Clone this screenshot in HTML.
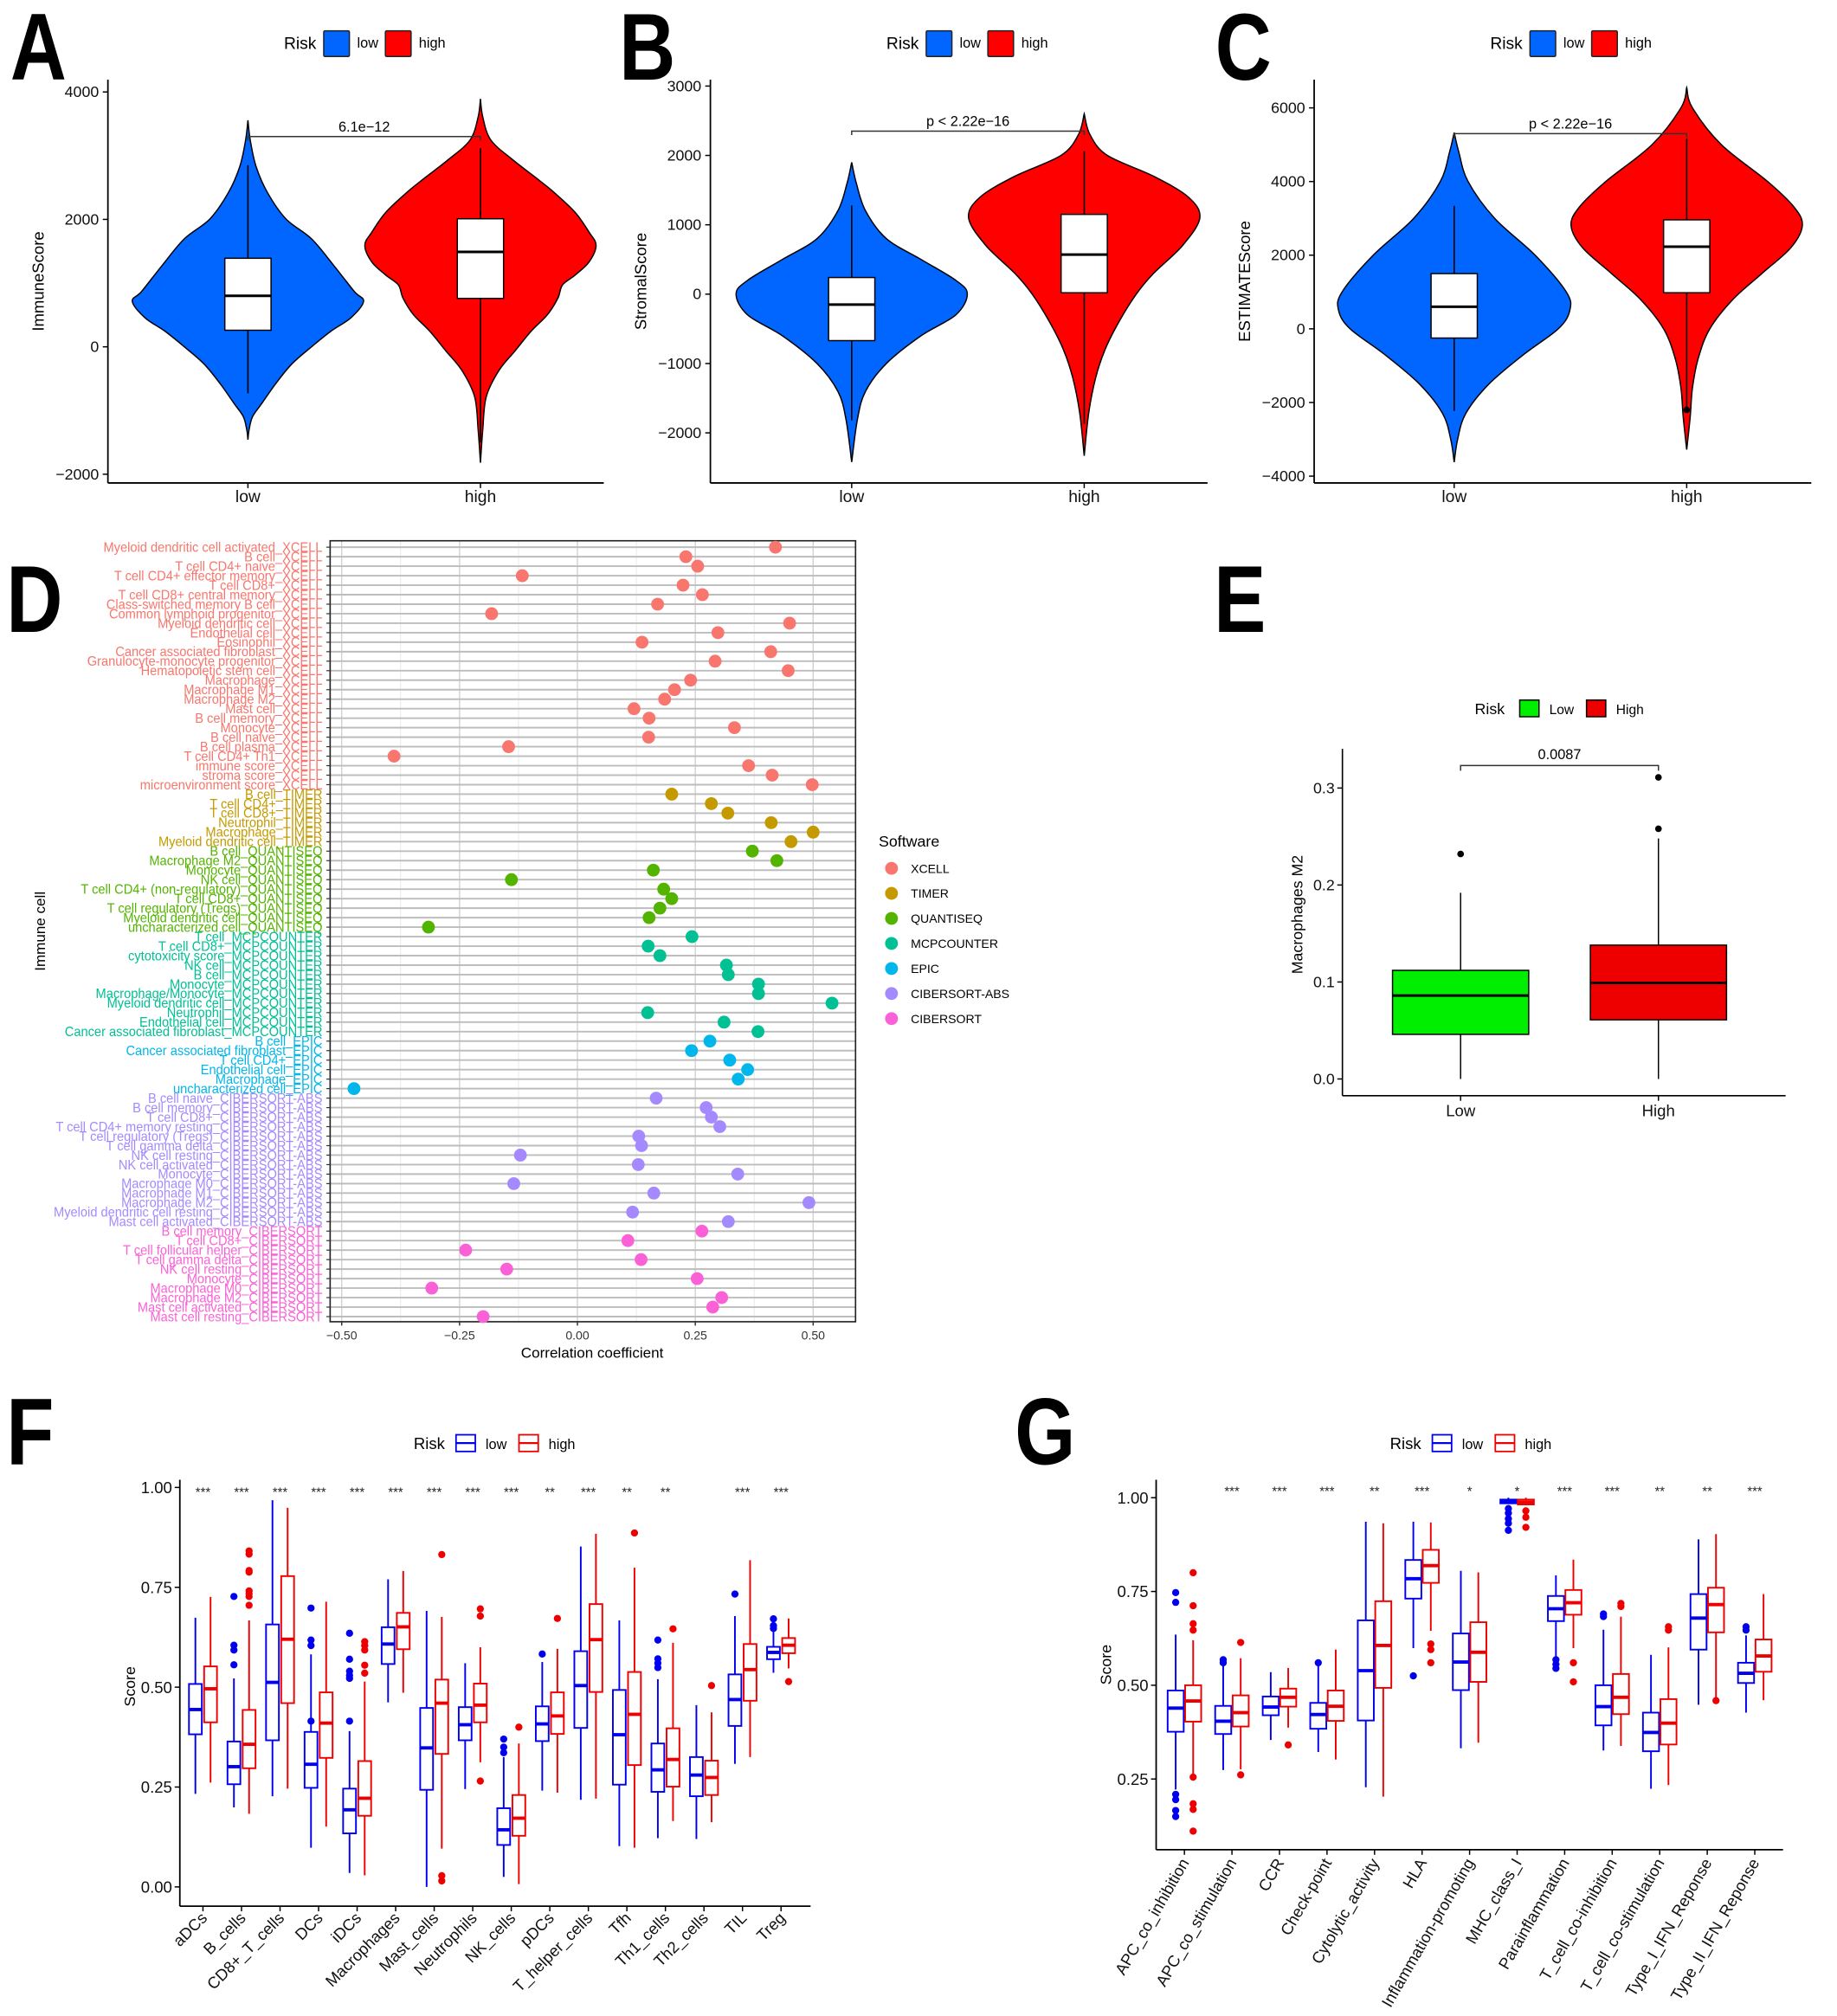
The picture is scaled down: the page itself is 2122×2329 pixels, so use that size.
<!DOCTYPE html>
<html><head><meta charset="utf-8"><style>
html,body{margin:0;padding:0;background:#fff;}
svg{display:block;}
text{font-family:"Liberation Sans",Arial,sans-serif;}
</style></head><body>
<svg id="fig" xmlns="http://www.w3.org/2000/svg" width="2122" height="2329" viewBox="0 0 1430 1569.5" preserveAspectRatio="none"></svg>
<script>
// ---------- Panel A/B/C data ----------
const abcPanels=['A','B','C'];
const abcYTitles=['ImmuneScore','StromalScore','ESTIMATEScore'];
const abcTicks=[[4000,2000,0,-2000],[3000,2000,1000,0,-1000,-2000],[6000,4000,2000,0,-2000,-4000]];
const abcPvals=['6.1e\u221212','p < 2.22e\u221216','p < 2.22e\u221216'];
const aLowV=[3555,3245,2832,2418,2005,1695,1282,868,713,455,248,0,-269,-579,-889,-1096,-1302,-1457];
const aLowW=[0,.02,.07,.17,.33,.55,.74,.92,1,.89,.72,.55,.38,.24,.12,.04,.01,0];
const aHighV=[3891,3607,3245,2935,2625,2418,2108,1798,1592,1333,1127,972,765,506,248,-62,-372,-786,-1302,-1819];
const aHighW=[0,.02,.09,.28,.5,.64,.82,.94,1,.94,.82,.71,.67,.58,.44,.3,.16,.05,.02,0];
const bLowV=[1900,1600,1200,800,500,200,0,-300,-600,-1000,-1400,-1800,-2420];
const bLowW=[0,.04,.12,.3,.6,.9,1,.9,.6,.3,.12,.05,0];
const bHighV=[2600,2300,2000,1700,1400,1100,700,300,0,-400,-800,-1200,-1700,-2330];
const bHighW=[0,.05,.2,.6,.9,1,.85,.6,.45,.3,.18,.1,.04,0];
const cLowV=[5330,4800,4000,3000,2000,1000,500,0,-700,-1500,-2300,-3000,-3620];
const cLowW=[0,.04,.12,.35,.7,.97,1,.9,.6,.3,.1,.03,0];
const cHighV=[6550,6000,5000,4000,3300,2800,2200,1500,800,0,-800,-1600,-2400,-3280];
const cHighW=[0,.05,.3,.7,.93,1,.9,.65,.4,.2,.1,.05,.03,0];
// box stats: [whiskerLow, q1, median, q3, whiskerHigh]
const aBoxLow=[-730,260,800,1390,2850], aBoxHigh=[-1500,760,1490,2010,3120];
const bBoxLow=[-1820,-670,-150,240,1280], bBoxHigh=[-1870,20,570,1150,2060];
const cBoxLow=[-2230,-250,600,1500,3340], cBoxHigh=[-2160,980,2230,2960,5160];
const cHighOut=[-2200];

// ---------- Panel D data ----------
const dSoftware=['XCELL','TIMER','QUANTISEQ','MCPCOUNTER','EPIC','CIBERSORT-ABS','CIBERSORT'];
const dColors=['#F8766D','#C49A00','#53B400','#00C094','#00B6EB','#A58AFF','#FB61D7'];
const dLabels=[
'Myeloid dendritic cell activated','B cell','T cell CD4+ naive','T cell CD4+ effector memory','T cell CD8+','T cell CD8+ central memory','Class-switched memory B cell','Common lymphoid progenitor','Myeloid dendritic cell','Endothelial cell','Eosinophil','Cancer associated fibroblast','Granulocyte-monocyte progenitor','Hematopoietic stem cell','Macrophage','Macrophage M1','Macrophage M2','Mast cell','B cell memory','Monocyte','B cell naive','B cell plasma','T cell CD4+ Th1','immune score','stroma score','microenvironment score',
'B cell','T cell CD4+','T cell CD8+','Neutrophil','Macrophage','Myeloid dendritic cell',
'B cell','Macrophage M2','Monocyte','NK cell','T cell CD4+ (non-regulatory)','T cell CD8+','T cell regulatory (Tregs)','Myeloid dendritic cell','uncharacterized cell',
'T cell','T cell CD8+','cytotoxicity score','NK cell','B cell','Monocyte','Macrophage/Monocyte','Myeloid dendritic cell','Neutrophil','Endothelial cell','Cancer associated fibroblast',
'B cell','Cancer associated fibroblast','T cell CD4+','Endothelial cell','Macrophage','uncharacterized cell',
'B cell naive','B cell memory','T cell CD8+','T cell CD4+ memory resting','T cell regulatory (Tregs)','T cell gamma delta','NK cell resting','NK cell activated','Monocyte','Macrophage M0','Macrophage M1','Macrophage M2','Myeloid dendritic cell resting','Mast cell activated',
'B cell memory','T cell CD8+','T cell follicular helper','T cell gamma delta','NK cell resting','Monocyte','Macrophage M0','Macrophage M2','Mast cell activated','Mast cell resting'];
const dGroup=[0,0,0,0,0,0,0,0,0,0,0,0,0,0,0,0,0,0,0,0,0,0,0,0,0,0,
1,1,1,1,1,1, 2,2,2,2,2,2,2,2,2, 3,3,3,3,3,3,3,3,3,3,3, 4,4,4,4,4,4,
5,5,5,5,5,5,5,5,5,5,5,5,5,5, 6,6,6,6,6,6,6,6,6,6];
const dCorr=[.42,.23,.255,-.117,.224,.265,.17,-.182,.45,.298,.137,.41,.292,.447,.24,.206,.185,.12,.152,.333,.151,-.146,-.389,.363,.413,.498,
.2,.284,.319,.411,.5,.453,
.371,.423,.161,-.14,.183,.2,.175,.152,-.316,
.243,.15,.175,.316,.32,.384,.384,.54,.149,.311,.383,
.281,.242,.323,.361,.341,-.474,
.167,.273,.284,.302,.13,.136,-.121,.129,.34,-.135,.162,.491,.117,.32,
.264,.107,-.237,.135,-.15,.254,-.309,.306,.287,-.2];
const dTicks=[-0.5,-0.25,0,0.25,0.5];
const dTickLabels=['\u22120.50','\u22120.25','0.00','0.25','0.50'];

// ---------- Panel E data ----------
const eCats=['Low','High'];
const eBoxes=[[0,.046,.086,.112,.192],[0,.061,.099,.138,.248]];
const eOut=[[.232],[.258,.311]];
const eTicks=[0,0.1,0.2,0.3];

// ---------- Panel F data ----------
const fCats=['aDCs','B_cells','CD8+_T_cells','DCs','iDCs','Macrophages','Mast_cells','Neutrophils','NK_cells','pDCs','T_helper_cells','Tfh','Th1_cells','Th2_cells','TIL','Treg'];
const fSig=['***','***','***','***','***','***','***','***','***','**','***','**','**','','***','***'];
const fLow=[[.233,.382,.444,.508,.674],[.199,.257,.301,.364,.522],[.227,.367,.512,.657,.968],[.098,.248,.307,.388,.582],[.035,.134,.193,.246,.39],[.462,.558,.608,.65,.77],[0,.243,.348,.448,.691],[.245,.367,.406,.45,.56],[.025,.105,.143,.197,.325],[.241,.365,.408,.452,.563],[.218,.398,.504,.59,.852],[.102,.256,.381,.493,.667],[.122,.238,.293,.359,.52],[.12,.227,.28,.325,.455],[.308,.403,.469,.532,.678],[.536,.57,.587,.601,.671]];
const fHigh=[[.261,.412,.496,.552,.726],[.183,.297,.357,.443,.667],[.246,.46,.62,.778,.949],[.151,.323,.41,.487,.714],[.029,.178,.222,.315,.514],[.486,.595,.651,.686,.791],[.096,.333,.46,.519,.676],[.312,.412,.455,.509,.6],[.007,.128,.172,.23,.359],[.236,.383,.428,.487,.596],[.221,.488,.619,.708,.884],[.098,.305,.432,.538,.799],[.165,.251,.319,.397,.611],[.162,.23,.274,.316,.437],[.325,.466,.544,.608,.818],[.547,.585,.605,.623,.672]];
const fLowOut=[[],[.727,.605,.593,.556],[],[.698,.618,.604,.415],[.635,.57,.54,.53,.522,.415],[],[],[],[.37,.35,.336],[.583],[],[],[.618,.571,.56,.549],[],[.733],[.671,.654,.647]];
const fHighOut=[[],[.841,.833,.792,.788,.741,.734,.727,.705],[],[],[.614,.604,.593,.555,.535],[],[.832,.028,.015],[.696,.678,.265],[.4],[.672],[],[.886],[.646],[.504],[],[.514]];
const fTicks=[0,0.25,0.5,0.75,1];
const fTickLabels=['0.00','0.25','0.50','0.75','1.00'];

// ---------- Panel G data ----------
const gCats=['APC_co_inhibition','APC_co_stimulation','CCR','Check-point','Cytolytic_activity','HLA','Inflammation-promoting','MHC_class_I','Parainflammation','T_cell_co-inhibition','T_cell_co-stimulation','Type_I_IFN_Reponse','Type_II_IFN_Reponse'];
const gSig=['','***','***','***','**','***','*','*','***','***','**','**','***'];
const gLow=[[.222,.376,.439,.486,.635],[.274,.37,.404,.445,.566],[.354,.42,.442,.47,.535],[.322,.384,.422,.453,.56],[.228,.406,.539,.673,.936],[.599,.731,.784,.834,.936],[.332,.487,.562,.638,.805],[.985,.985,.99,.995,1],[.576,.671,.704,.738,.793],[.326,.393,.443,.5,.648],[.224,.324,.374,.427,.581],[.448,.595,.679,.743,.889],[.427,.506,.532,.56,.633]];
const gHigh=[[.261,.403,.458,.5,.62],[.276,.39,.427,.473,.572],[.387,.443,.468,.491,.546],[.302,.405,.444,.486,.595],[.203,.493,.606,.724,.932],[.645,.773,.819,.861,.934],[.347,.509,.588,.668,.801],[.982,.982,.988,.995,1],[.599,.688,.72,.754,.835],[.338,.423,.468,.53,.683],[.234,.342,.399,.463,.601],[.459,.641,.715,.76,.903],[.46,.536,.578,.622,.743]];
const gLowOut=[[.747,.721,.209,.195,.166,.15],[.568,.56],[],[.56],[],[.525],[],[.971,.959,.944,.932,.913],[.568,.556,.545],[.69,.683],[],[],[.656,.647]];
const gHighOut=[[.8,.712,.664,.647,.255,.184,.169,.111],[.614,.261],[.341],[],[],[.61,.595,.56],[],[.965,.948,.921],[.56,.509],[.718,.71],[.656,.647],[.459],[]];
const gTicks=[0.25,0.5,0.75,1];
const gTickLabels=['0.25','0.50','0.75','1.00'];

// ---------- helpers ----------
const NS='http://www.w3.org/2000/svg';
const svg=document.getElementById('fig');
function mk(tag,a,p){const e=document.createElementNS(NS,tag);for(const k in a)e.setAttribute(k,a[k]);(p||svg).appendChild(e);return e;}
function nm(e,n){


return e;}
function tx(x,y,s,a,p){const e=mk('text',Object.assign({x:x,y:y},a||{}),p);e.textContent=s;return e;}
function smoothPath(pts){ // catmull-rom
 let d='M'+pts[0][0].toFixed(2)+','+pts[0][1].toFixed(2);
 for(let i=0;i<pts.length-1;i++){const p0=pts[i-1]||pts[i],p1=pts[i],p2=pts[i+1],p3=pts[i+2]||p2;
  const c1=[p1[0]+(p2[0]-p0[0])/6,p1[1]+(p2[1]-p0[1])/6],c2=[p2[0]-(p3[0]-p1[0])/6,p2[1]-(p3[1]-p1[1])/6];
  d+='C'+c1.map(v=>v.toFixed(2)).join(',')+' '+c2.map(v=>v.toFixed(2)).join(',')+' '+p2[0].toFixed(2)+','+p2[1].toFixed(2);}
 return d;}
function bigLetter(x,y,s){const g=mk('g',{transform:`translate(${x},${y}) scale(0.82,1)`});
 const t=tx(0,0,s,{'font-size':74,'font-weight':'bold',fill:'#000'},g);nm(t,'panel-label-'+s.toLowerCase());}

// ---------- Panels A B C ----------
const abcGeo=[{x0:84,x1:470,cx:[193,374],y0:270,k:0.0496,legX:221},{x0:553,x1:940,cx:[663,844],y0:229,k:0.054,legX:690},{x0:1023,x1:1410,cx:[1132,1313],y0:256,k:0.02867,legX:1160}];
const abcViol=[[[aLowV,aLowW],[aHighV,aHighW]],[[bLowV,bLowW],[bHighV,bHighW]],[[cLowV,cLowW],[cHighV,cHighW]]];
const abcBox=[[aBoxLow,aBoxHigh],[bBoxLow,bBoxHigh],[cBoxLow,cBoxHigh]];
const abcTop=[[3300,3300],[2350,2350],[5300,5300]];
const abcLetterX=[8,482,946];
abcPanels.forEach((P,pi)=>{
 const G=abcGeo[pi];const yv=v=>G.y0-v*G.k;
 const g=nm(mk('g',{}),'panel-'+P.toLowerCase()+'-violin-chart');
 bigLetter(abcLetterX[pi],62,P);
 const lg=nm(mk('g',{},g),'legend');
 tx(G.legX,38,'Risk',{'font-size':13,fill:'#000'},lg);
 nm(mk('rect',{x:G.legX+31,y:24,width:20,height:20,fill:'#0066FF',stroke:'#222','stroke-width':1,rx:1},lg),'legend-key-low');
 tx(G.legX+57,37,'low',{'font-size':11,fill:'#000'},lg);
 nm(mk('rect',{x:G.legX+79,y:24,width:20,height:20,fill:'#FF0000',stroke:'#222','stroke-width':1,rx:1},lg),'legend-key-high');
 tx(G.legX+105,37,'high',{'font-size':11,fill:'#000'},lg);
 ['low','high'].forEach((c,ci)=>{
  const [V,W]=abcViol[pi][ci];const cx=G.cx[ci];const hw=90;
  const right=V.map((v,i)=>[cx+W[i]*hw,yv(v)]);const left=V.map((v,i)=>[cx-W[i]*hw,yv(v)]).reverse();
  const d=smoothPath(right)+' L'+smoothPath(left).slice(1)+'Z';
  nm(mk('path',{d:d,fill:ci?'#FF0000':'#0066FF',stroke:'#000','stroke-width':1},g),'violin-'+c);
  const b=abcBox[pi][ci];
  nm(mk('line',{x1:cx,x2:cx,y1:yv(b[4]),y2:yv(b[0]),stroke:'#000','stroke-width':1.1},g),'whisker-'+c);
  nm(mk('rect',{x:cx-18,y:yv(b[3]),width:36,height:yv(b[1])-yv(b[3]),fill:'#fff',stroke:'#000','stroke-width':1},g),'box-'+c);
  nm(mk('line',{x1:cx-18,x2:cx+18,y1:yv(b[2]),y2:yv(b[2]),stroke:'#000','stroke-width':2},g),'median-'+c);
 });
 if(pi===2){cHighOut.forEach(v=>{nm(mk('circle',{cx:G.cx[1],cy:yv(v),r:2.5,fill:'#000'},g),'outlier');});}
 const by=yv(abcTop[pi][0]);
 nm(mk('path',{d:`M${G.cx[0]},${by+3}V${by}H${G.cx[1]}V${by+3}`,fill:'none',stroke:'#333','stroke-width':1},g),'significance-bracket');
 nm(tx((G.cx[0]+G.cx[1])/2,by-4,abcPvals[pi],{'font-size':11,'text-anchor':'middle',fill:'#000'},g),'p-value');
 nm(mk('line',{x1:G.x0,x2:G.x0,y1:62,y2:376,stroke:'#000','stroke-width':1.2},g),'y-axis');
 nm(mk('line',{x1:G.x0,x2:G.x1,y1:376,y2:376,stroke:'#000','stroke-width':1.2},g),'x-axis');
 abcTicks[pi].forEach(t=>{const y=yv(t);mk('line',{x1:G.x0-4,x2:G.x0,y1:y,y2:y,stroke:'#000','stroke-width':1},g);
  nm(tx(G.x0-7,y+4,(t<0?'\u2212':'')+Math.abs(t),{'font-size':12,'text-anchor':'end',fill:'#111'},g),'y-tick-label');});
 ['low','high'].forEach((c,ci)=>{mk('line',{x1:G.cx[ci],x2:G.cx[ci],y1:376,y2:380,stroke:'#000'},g);
  nm(tx(G.cx[ci],391,c,{'font-size':13,'text-anchor':'middle',fill:'#111'},g),'x-tick-label');});
 nm(tx(0,0,abcYTitles[pi],{'font-size':12.5,'text-anchor':'middle',fill:'#000',transform:`translate(${G.x0-50},219) rotate(-90)`},g),'y-axis-title');
});

// ---------- Panel D ----------
(function(){
 const g=nm(mk('g',{}),'panel-d-dot-chart');
 bigLetter(5,492,'D');
 const X0=257,X1=666,Y0=421,Y1=1029;
 const dx=v=>449.5+v*367, dy=i=>426+i*7.395;
 for(let v=-0.5;v<=0.5001;v+=0.125){const maj=Math.abs((v*4)-Math.round(v*4))<1e-6;
  mk('line',{x1:dx(v),x2:dx(v),y1:Y0,y2:Y1,stroke:maj?'#cfcfcf':'#e6e6e6','stroke-width':maj?0.9:0.6},g);}
 dLabels.forEach((l,i)=>{mk('line',{x1:X0,x2:X1,y1:dy(i),y2:dy(i),stroke:'#bdbdbd','stroke-width':1.3},g);});
 nm(mk('rect',{x:X0,y:Y0,width:X1-X0,height:Y1-Y0,fill:'none',stroke:'#222','stroke-width':1.1},g),'plot-border');
 dLabels.forEach((l,i)=>{
  mk('line',{x1:X0-3,x2:X0,y1:dy(i),y2:dy(i),stroke:'#333','stroke-width':0.8},g);
  const tg=mk('g',{transform:`translate(251,${dy(i)+3.6}) scale(0.94,1)`},g);
  nm(tx(0,0,l+'_'+dSoftware[dGroup[i]],{'font-size':10.5,'text-anchor':'end',fill:dColors[dGroup[i]]},tg),'y-tick-label');
  nm(mk('circle',{cx:dx(dCorr[i]),cy:dy(i),r:5,fill:dColors[dGroup[i]]},g),'dot-'+dSoftware[dGroup[i]].toLowerCase());
 });
 dTicks.forEach((t,i)=>{mk('line',{x1:dx(t),x2:dx(t),y1:Y1,y2:Y1+3,stroke:'#333'},g);
  nm(tx(dx(t),1043,dTickLabels[i],{'font-size':9.5,'text-anchor':'middle',fill:'#333'},g),'x-tick-label');});
 nm(tx(461,1057,'Correlation coefficient',{'font-size':11.5,'text-anchor':'middle',fill:'#000'},g),'x-axis-title');
 nm(tx(0,0,'Immune cell',{'font-size':11.5,'text-anchor':'middle',fill:'#000',transform:'translate(35,725) rotate(-90)'},g),'y-axis-title');
 const lg=nm(mk('g',{},g),'legend');
 tx(684,659,'Software',{'font-size':12,fill:'#000'},lg);
 dSoftware.forEach((s,i)=>{const y=676+i*19.5;
  nm(mk('circle',{cx:694,cy:y,r:5,fill:dColors[i]},lg),'legend-dot');
  nm(tx(709,y+3.5,s,{'font-size':9.5,fill:'#000'},lg),'legend-entry');});
})();

// ---------- Panel E ----------
(function(){
 const g=nm(mk('g',{}),'panel-e-box-chart');
 bigLetter(945,492,'E');
 const AX=1045;
 const ey=v=>840-v*755, cx=[1137,1291], cols=['#00EE00','#EE0000'];
 const lg=nm(mk('g',{},g),'legend');
 tx(1148,556,'Risk',{'font-size':12,fill:'#000'},lg);
 nm(mk('rect',{x:1183,y:545,width:15,height:13,fill:'#00EE00',stroke:'#000','stroke-width':1},lg),'legend-key-low');
 tx(1206,556,'Low',{'font-size':10.5,fill:'#000'},lg);
 nm(mk('rect',{x:1235,y:545,width:15,height:13,fill:'#EE0000',stroke:'#000','stroke-width':1},lg),'legend-key-high');
 tx(1258,556,'High',{'font-size':10.5,fill:'#000'},lg);
 eCats.forEach((c,i)=>{const b=eBoxes[i],x=cx[i];
  nm(mk('line',{x1:x,x2:x,y1:ey(b[0]),y2:ey(b[1]),stroke:'#000','stroke-width':1},g),'whisker-low');
  nm(mk('line',{x1:x,x2:x,y1:ey(b[3]),y2:ey(b[4]),stroke:'#000','stroke-width':1},g),'whisker-high');
  nm(mk('rect',{x:x-53,y:ey(b[3]),width:106,height:ey(b[1])-ey(b[3]),fill:cols[i],stroke:'#000','stroke-width':1},g),'box-'+c.toLowerCase());
  nm(mk('line',{x1:x-53,x2:x+53,y1:ey(b[2]),y2:ey(b[2]),stroke:'#000','stroke-width':2},g),'median');
  eOut[i].forEach(v=>{nm(mk('circle',{cx:x,cy:ey(v),r:2.6,fill:'#000'},g),'outlier');});
  mk('line',{x1:x,x2:x,y1:853,y2:857,stroke:'#000'},g);
  nm(tx(x,869,c,{'font-size':12.5,'text-anchor':'middle',fill:'#111'},g),'x-tick-label');
 });
 nm(mk('path',{d:'M1137,600V596H1291V600',fill:'none',stroke:'#333','stroke-width':1},g),'significance-bracket');
 nm(tx(1214,591,'0.0087',{'font-size':11,'text-anchor':'middle',fill:'#000'},g),'p-value');
 nm(mk('line',{x1:AX,x2:AX,y1:583,y2:853,stroke:'#000','stroke-width':1.1},g),'y-axis');
 nm(mk('line',{x1:AX,x2:1390,y1:853,y2:853,stroke:'#000','stroke-width':1.1},g),'x-axis');
 eTicks.forEach(t=>{const y=ey(t);mk('line',{x1:AX-4,x2:AX,y1:y,y2:y,stroke:'#000'},g);
  nm(tx(AX-6,y+4,t.toFixed(1),{'font-size':12,'text-anchor':'end',fill:'#111'},g),'y-tick-label');});
 nm(tx(0,0,'Macrophages M2',{'font-size':12,'text-anchor':'middle',fill:'#000',transform:'translate(1014,712) rotate(-90)'},g),'y-axis-title');
})();

// ---------- Panels F and G (grouped box plots) ----------
function groupedBox(o){
 const g=nm(mk('g',{}),o.name);
 bigLetter(o.letterX,1140,o.letter);
 const yv=o.yv;
 const lg=nm(mk('g',{},g),'legend');
 tx(o.legX,1128,'Risk',{'font-size':12.5,fill:'#000'},lg);
 [['low','#0000EE',o.legX+33],['high','#EE0000',o.legX+82]].forEach(([l,c,x])=>{
  const k=nm(mk('g',{},lg),'legend-key-'+l);
  mk('rect',{x:x,y:1117,width:15,height:13,fill:'#fff',stroke:c,'stroke-width':1.2},k);
  mk('line',{x1:x,x2:x+15,y1:1123.5,y2:1123.5,stroke:c,'stroke-width':1.5},k);
  tx(x+23,1128,l,{'font-size':11,fill:'#000'},lg);});
 o.cats.forEach((c,i)=>{const tx0=o.x0+i*o.step;
  [[o.low,o.lowOut,'#0000EE',-1,'low'],[o.high,o.highOut,'#EE0000',1,'high']].forEach(([S,OUT,col,sgn,nmv])=>{
   const b=S[i],x=tx0+sgn*o.off,h=o.bw/2;
   nm(mk('line',{x1:x,x2:x,y1:yv(b[0]),y2:yv(b[1]),stroke:col,'stroke-width':1.3},g),'whisker-'+nmv);
   nm(mk('line',{x1:x,x2:x,y1:yv(b[3]),y2:yv(b[4]),stroke:col,'stroke-width':1.3},g),'whisker-'+nmv);
   nm(mk('rect',{x:x-h,y:yv(b[3]),width:o.bw,height:Math.max(0.5,yv(b[1])-yv(b[3])),fill:'#fff',stroke:col,'stroke-width':1.3},g),'box-'+nmv+'-'+c);
   nm(mk('line',{x1:x-h,x2:x+h,y1:yv(b[2]),y2:yv(b[2]),stroke:col,'stroke-width':2.6},g),'median-'+nmv);
   OUT[i].forEach(v=>{nm(mk('circle',{cx:x,cy:yv(v),r:2.8,fill:col},g),'outlier-'+nmv);});
  });
  if(o.sig[i])nm(tx(tx0,o.sigY,o.sig[i],{'font-size':10,'text-anchor':'middle',fill:'#222'},g),'significance-mark');
  mk('line',{x1:tx0,x2:tx0,y1:o.axY,y2:o.axY+4,stroke:'#000'},g);
  nm(tx(0,0,c,{'font-size':12.5,'text-anchor':'end',fill:'#111',transform:`translate(${tx0+4},${o.axY+10}) rotate(${o.rot})`},g),'x-tick-label');
 });
 nm(mk('line',{x1:o.axX,x2:o.axX,y1:1152,y2:o.axY,stroke:'#000','stroke-width':1.2},g),'y-axis');
 nm(mk('line',{x1:o.axX,x2:o.axR,y1:o.axY,y2:o.axY,stroke:'#000','stroke-width':1.2},g),'x-axis');
 o.ticks.forEach((t,i)=>{const y=yv(t);mk('line',{x1:o.axX-4,x2:o.axX,y1:y,y2:y,stroke:'#000'},g);
  nm(tx(o.axX-6,y+4.5,o.tickLabels[i],{'font-size':12.5,'text-anchor':'end',fill:'#111'},g),'y-tick-label');});
 nm(tx(0,0,'Score',{'font-size':12,'text-anchor':'middle',fill:'#000',transform:`translate(${o.axX-35},${o.titleY}) rotate(-90)`},g),'y-axis-title');
}
groupedBox({name:'panel-f-box-chart',letter:'F',letterX:5,legX:322,cats:fCats,low:fLow,high:fHigh,lowOut:fLowOut,highOut:fHighOut,sig:fSig,
 yv:v=>1469-v*311,x0:158,step:30,off:5.9,bw:10,axX:140,axR:631,axY:1484,sigY:1165,rot:-45,ticks:fTicks,tickLabels:fTickLabels,titleY:1313});
groupedBox({name:'panel-g-box-chart',letter:'G',letterX:790,legX:1082,cats:gCats,low:gLow,high:gHigh,lowOut:gLowOut,highOut:gHighOut,sig:gSig,
 yv:v=>1166+(1-v)*292,x0:922,step:37,off:6.8,bw:12.5,axX:900,axR:1388,axY:1440,sigY:1164,rot:-60,ticks:gTicks,tickLabels:gTickLabels,titleY:1296});
</script>
</body></html>
